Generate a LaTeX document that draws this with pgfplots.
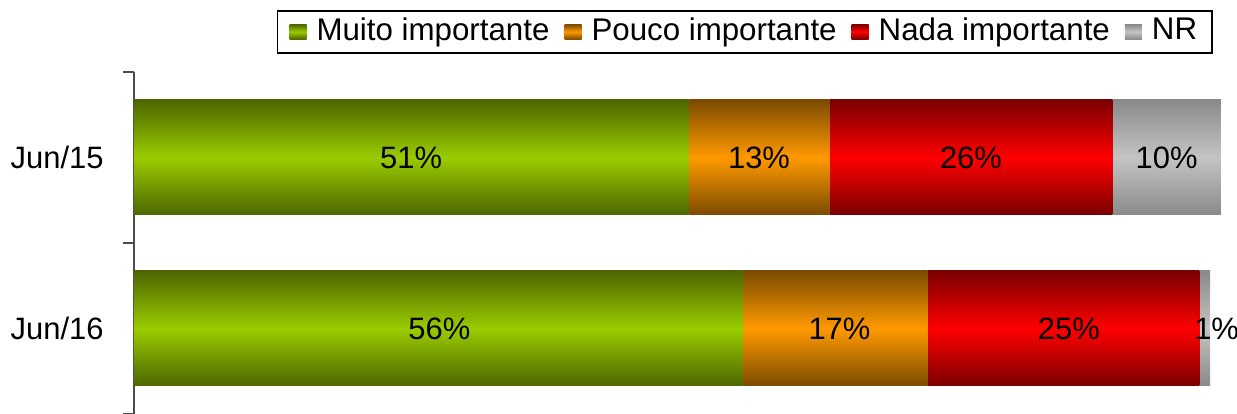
\documentclass[border=0pt]{standalone}
\usepackage{pgfplots}
\pgfplotsset{compat=1.18}
\usepackage{fontspec}
\setmainfont{Liberation Sans}

\definecolor{gBright}{HTML}{99CC00}
\definecolor{gDark}{HTML}{4D6600}
\definecolor{oBright}{HTML}{FF9900}
\definecolor{oDark}{HTML}{7B4B00}
\definecolor{rBright}{HTML}{FF0000}
\definecolor{rDark}{HTML}{7A0000}
\definecolor{nBright}{HTML}{C4C4C4}
\definecolor{nDark}{HTML}{8A8A8A}

\pgfplotsset{
    base/.style={
        scale only axis,
        width=10.87cm, height=3.42cm,
        xmin=0, xmax=100,
        ymin=-0.5, ymax=1.5,
        font=\fontsize{8.8}{10.5}\selectfont,
    },
    barax/.style={base, xbar stacked, bar width=1.15cm},
    muito/.style={draw=none, top color=gDark, bottom color=gDark, middle color=gBright},
    pouco/.style={draw=none, top color=oDark, bottom color=oDark, middle color=oBright},
    nada/.style={draw=none, top color=rDark, bottom color=rDark, middle color=rBright},
    nr/.style={draw=none, top color=nDark, bottom color=nDark, middle color=nBright},
}

\begin{document}
\begin{tikzpicture}
% Jun/15 (one axis per bar, so each bar gets its own shading)
\begin{axis}[
    barax,
    name=ax,
    axis x line=none,
    axis y line=left,
    axis line style={-, black!70, line width=0.6pt},
    ytick={0,1},
    yticklabels={Jun/16,Jun/15},
    minor ytick={-0.5,0.5,1.5},
    tick align=outside,
    major tick length=0pt,
    minor tick length=0.11cm,
    every tick/.style={black!70, line width=0.6pt},
    yticklabel style={xshift=-0.18cm},
    legend columns=4,
    legend style={
        at={(1,1)}, anchor=north east,
        xshift=-0.08cm, yshift=0.62cm,
        draw=black, line width=0.5pt,
        inner xsep=0.12cm, inner ysep=0.04cm,
        font=\fontsize{8.9}{10.5}\selectfont,
        nodes={inner sep=0.03cm},
        /tikz/every odd column/.append style={column sep=0.07cm},
        /tikz/every even column/.append style={column sep=0.12cm}
    },
    legend image code/.code={
        \path[#1, draw=none] (0cm,-0.075cm) rectangle (0.17cm,0.075cm);
    },
]
\addplot[muito] coordinates {(51,1)};
\addlegendentry{Muito importante}
\addplot[pouco] coordinates {(13,1)};
\addlegendentry{Pouco importante}
\addplot[nada] coordinates {(26,1)};
\addlegendentry{Nada importante}
\addplot[nr] coordinates {(10,1)};
\addlegendentry{NR}
\end{axis}

% Jun/16
\begin{axis}[barax, at={(ax.south west)}, anchor=south west, hide axis]
\addplot[muito] coordinates {(56,0)};
\addplot[pouco] coordinates {(17,0)};
\addplot[nada] coordinates {(25,0)};
\addplot[nr] coordinates {(1,0)};
\end{axis}

% value labels, centred in each segment
\begin{axis}[base, at={(ax.south west)}, anchor=south west, hide axis, clip=false]
\addplot[only marks, mark=none, point meta=explicit symbolic,
    nodes near coords,
    nodes near coords style={anchor=center, text=black}]
    coordinates {
    (25.5,1) [51\%]
    (57.5,1) [13\%]
    (77,1) [26\%]
    (95,1) [10\%]
    (28.1,0) [56\%]
    (64.9,0) [17\%]
    (86,0) [25\%]
    (99.6,0) [1\%]
};
\end{axis}

\pgfresetboundingbox
\path[use as bounding box] (ax.south west) ++(-1.34cm,0) rectangle ++(12.37cm,4.14cm);
\end{tikzpicture}
\end{document}
